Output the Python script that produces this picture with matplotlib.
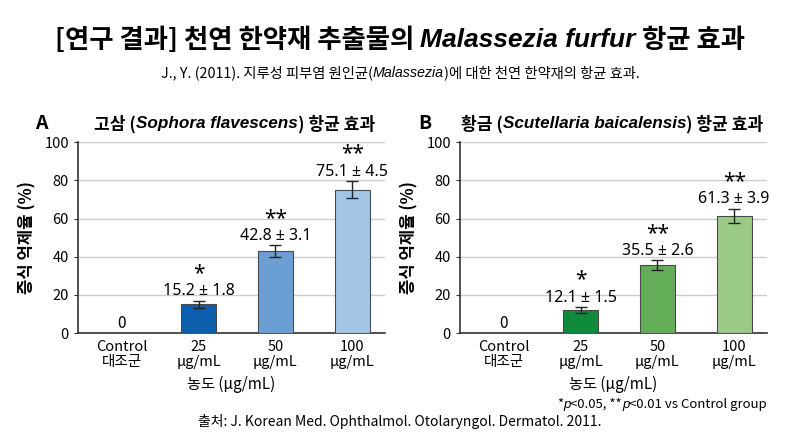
import matplotlib
matplotlib.use('Agg')
import matplotlib.pyplot as plt

plt.rcParams['font.family'] = ['Noto Sans CJK KR', 'DejaVu Sans']

# 데이터
categories = ['Control\n대조군', '25\nμg/mL', '50\nμg/mL', '100\nμg/mL']
sophora_mean = [0, 15.2, 42.8, 75.1]
sophora_sd = [0, 1.8, 3.1, 4.5]
scutellaria_mean = [0, 12.1, 35.5, 61.3]
scutellaria_sd = [0, 1.5, 2.6, 3.9]
stars = ['', '*', '**', '**']

blue = ['#0d5fad', '#0d5fad', '#6b9fd3', '#a3c6e6']
green = ['#0f8a3a', '#0f8a3a', '#63ad58', '#9bca86']


def rich_line(fig, y, parts, size, weight='normal', ha='center', x=0.5):
    # 여러 스타일의 텍스트 조각을 한 줄로 이어 붙이기
    r = fig.canvas.get_renderer()
    texts = []
    for s, italic in parts:
        if italic:
            t = fig.text(0, y, s, fontsize=size, weight=weight, style='italic',
                         family=['Liberation Sans', 'DejaVu Sans'], va='center')
        else:
            t = fig.text(0, y, s, fontsize=size, weight=weight, va='center')
        texts.append(t)
    widths = [t.get_window_extent(r).width / fig.bbox.width for t in texts]
    total = sum(widths)
    if ha == 'center':
        x0 = x - total / 2
    elif ha == 'right':
        x0 = x - total
    else:
        x0 = x
    for t, w in zip(texts, widths):
        t.set_x(x0)
        x0 += w


def panel(ax, means, sds, colors):
    xs = range(len(categories))
    ax.bar(xs, means, width=0.46, color=colors, edgecolor='#4a4a4a', linewidth=0.8, zorder=3)
    ax.errorbar(list(xs)[1:], means[1:], yerr=sds[1:], fmt='none', ecolor='#222222',
                elinewidth=1, capsize=4, capthick=1, zorder=4)
    for i in xs:
        if means[i] == 0:
            ax.text(i, 5, '0', ha='center', va='center', fontsize=11)
            continue
        top = means[i] + sds[i]
        ax.annotate('%.1f ± %.1f' % (means[i], sds[i]), (i, top), xytext=(0, 1),
                    textcoords='offset points', ha='center', va='bottom', fontsize=11.5,
                    family=['Noto Sans', 'DejaVu Sans'])
        ax.annotate(stars[i], (i, top), xytext=(0, 12), textcoords='offset points',
                    ha='center', va='bottom', fontsize=15, weight='bold',
                    family=['Noto Sans', 'DejaVu Sans'])
    ax.set_xlim(-0.57, 3.43)
    ax.set_ylim(0, 100)
    ax.set_yticks([0, 20, 40, 60, 80, 100])
    ax.set_xticks(list(xs))
    ax.set_xticklabels(categories, fontsize=10.5, linespacing=1.1)
    ax.tick_params(axis='x', length=0, pad=5)
    ax.tick_params(axis='y', labelsize=10.5, length=3, color='#333333')
    ax.yaxis.grid(True, color='#cccccc', linewidth=1, zorder=0)
    ax.set_axisbelow(True)
    for s in ['top', 'right']:
        ax.spines[s].set_visible(False)
    for s in ['left', 'bottom']:
        ax.spines[s].set_color('#333333')
        ax.spines[s].set_linewidth(1.2)
    ax.set_ylabel('증식 억제율 (%)', fontsize=12, weight='bold', labelpad=6)
    ax.set_xlabel('농도 (μg/mL)', fontsize=11, labelpad=5)


fig = plt.figure(figsize=(8, 4.36), dpi=100)
ax1 = fig.add_axes([0.0975, 0.236, 0.384, 0.438])
ax2 = fig.add_axes([0.575, 0.236, 0.384, 0.438])

panel(ax1, sophora_mean, sophora_sd, blue)
panel(ax2, scutellaria_mean, scutellaria_sd, green)

rich_line(fig, 0.908, [('[연구 결과] 천연 한약재 추출물의 ', False), ('Malassezia furfur', True),
                       (' 항균 효과', False)], 19, weight='bold')
rich_line(fig, 0.833, [('J., Y. (2011). 지루성 피부염 원인균(', False), ('Malassezia', True),
                       (')에 대한 천연 한약재의 항균 효과.', False)], 10.3)

fig.text(0.044, 0.716, 'A', fontsize=14, weight='bold', va='center')
fig.text(0.5225, 0.716, 'B', fontsize=14, weight='bold', va='center')
rich_line(fig, 0.716, [('고삼 (', False), ('Sophora flavescens', True), (') 항균 효과', False)],
          12.3, weight='bold', x=0.2935)
rich_line(fig, 0.716, [('황금 (', False), ('Scutellaria baicalensis', True), (') 항균 효과', False)],
          12.3, weight='bold', x=0.765)

rich_line(fig, 0.072, [('*', False), ('p', True), ('<0.05, **', False), ('p', True),
                       ('<0.01 vs Control group', False)], 9.5, ha='right', x=0.959)
fig.text(0.5, 0.033, '출처: J. Korean Med. Ophthalmol. Otolaryngol. Dermatol. 2011.',
         ha='center', va='center', fontsize=10)

fig.savefig('out.png', dpi=100)
